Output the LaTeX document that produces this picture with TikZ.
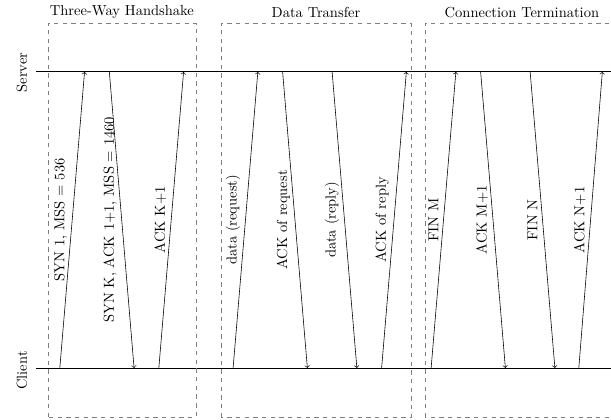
\documentclass[tikz,border=0pt]{standalone}
\usepackage{amsmath, amssymb}
\usepackage{tikz}

\begin{document}
\begin{tikzpicture}
        \useasboundingbox (0,0) rectangle (14.81,10.18);
        % Coordinates
        \coordinate (SA) at (0.87, 8.44);
        \coordinate (SB) at (15.00, 8.44);
        \coordinate (CA) at (0.87, 1.26);
        \coordinate (CB) at (15.00, 1.26);
        \coordinate (C1) at (1.45, 1.26);
        \coordinate (S1) at (2.05, 8.44);
        \coordinate (S2) at (2.65, 8.44);
        \coordinate (C2) at (3.25, 1.26);
        \coordinate (C3) at (3.85, 1.26);
        \coordinate (S3) at (4.45, 8.44);
        \coordinate (C4) at (5.65, 1.26);
        \coordinate (S4) at (6.25, 8.44);
        \coordinate (S5) at (6.85, 8.44);
        \coordinate (C5) at (7.45, 1.26);
        \coordinate (S6) at (8.05, 8.44);
        \coordinate (C6) at (8.65, 1.26);
        \coordinate (C7) at (9.25, 1.26);
        \coordinate (S7) at (9.85, 8.44);
        \coordinate (C8) at (10.45, 1.26);
        \coordinate (S8) at (11.05, 8.44);
        \coordinate (S9) at (11.65, 8.44);
        \coordinate (C9) at (12.25, 1.26);
        \coordinate (S10) at (12.85, 8.44);
        \coordinate (C10) at (13.45, 1.26);
        \coordinate (C11) at (14.03, 1.26);
        \coordinate (S11) at (14.60, 8.44);

        % Drawing
        \draw (SA) -- (SB);
        \draw (CA) -- (CB);
        \node[rotate=90] (srv) at (0.53, 8.42) {Server};
        \node[rotate=90] (cli) at (0.53, 1.20) {Client};
        \draw[dashed, gray] (1.16,0.07) rectangle (4.75,9.62);
        \draw[dashed, gray] (5.36,0.07) rectangle (9.96,9.62);
        \draw[dashed, gray] (10.30,0.07) rectangle (15.00,9.62);
        \node[above] (hs) at (2.955, 9.62) {Three-Way Handshake};
        \node[above] (dt) at (7.66, 9.62) {Data Transfer};
        \node[above] (ct) at (12.65, 9.62) {Connection Termination};
        \draw[->] (C1) -- (S1) node[midway, above, rotate=90] (m1) {SYN 1, MSS $=$ 536};
        \draw[->] (S2) -- (C2) node[midway, above, rotate=90] (m2) {SYN K, ACK 1+1, MSS $=$ 1460};
        \draw[->] (C3) -- (S3) node[midway, above, rotate=90] (m3) {ACK K+1};
        \draw[->] (C4) -- (S4) node[midway, above, rotate=90] (m4) {data (request)};
        \draw[->] (S5) -- (C5) node[midway, above, rotate=90] (m5) {ACK of request};
        \draw[->] (S6) -- (C6) node[midway, above, rotate=90] (m6) {data (reply)};
        \draw[->] (C7) -- (S7) node[midway, above, rotate=90] (m7) {ACK of reply};
        \draw[->] (C8) -- (S8) node[midway, above, rotate=90] (m8) {FIN M};
        \draw[->] (S9) -- (C9) node[midway, above, rotate=90] (m9) {ACK M+1};
        \draw[->] (S10) -- (C10) node[midway, above, rotate=90] (m10) {FIN N};
        \draw[->] (C11) -- (S11) node[midway, above, rotate=90] (m11) {ACK N+1};
\end{tikzpicture}
\end{document}
